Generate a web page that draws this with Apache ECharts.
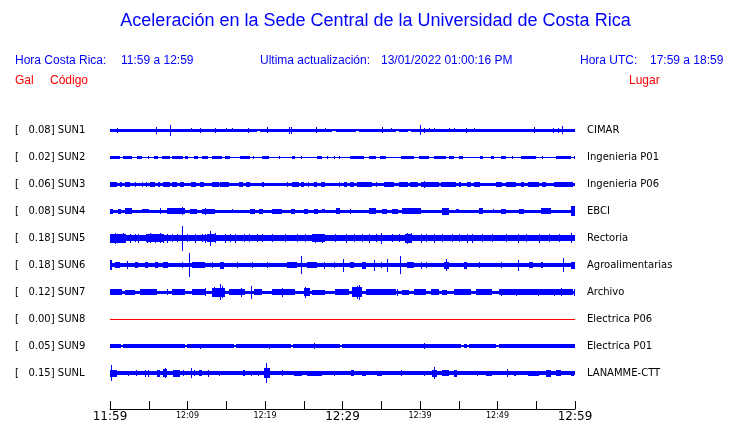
<!DOCTYPE html>
<html><head><meta charset="utf-8">
<script src="https://cdn.jsdelivr.net/npm/echarts@6/dist/echarts.min.js"></script>
<style>html,body{margin:0;padding:0;background:#fff}#c{width:740px;height:423px}</style>
</head><body><div id="c"></div>
<script>
// ---- data ----
const titleText = 'Aceleración en la Sede Central de la Universidad de Costa Rica';
const localRange = '11:59 a 12:59';
const utcRange = '17:59 a 18:59';
const lastUpdate = '13/01/2022 01:00:16 PM';
const stations = ['SUN1','SUN2','SUN3','SUN4','SUN5','SUN6','SUN7','SUN8','SUN9','SUNL'];
const gal = [0.08,0.02,0.06,0.08,0.18,0.18,0.12,0.00,0.05,0.15];
const places = ['CIMAR','Ingenieria P01','Ingenieria P06','EBCI','Rectoria','Agroalimentarias','Archivo','Electrica P06','Electrica P01','LANAMME-CTT'];
const timeLabels = ['11:59','12:04','12:09','12:14','12:19','12:24','12:29','12:34','12:39','12:44','12:49','12:54','12:59'];
// minutes after 11:59 ; [start, end, half amplitude]
const sun1Base = [[0,19.0,1.5],[19.0,19.4,1.0],[19.4,28.7,1.5],[28.7,29.1,1.0],[29.1,31.7,1.5],[31.7,32.1,1.0],[32.1,36.9,1.5],[36.9,37.3,1.0],[37.3,38.4,1.5],[38.4,38.8,1.0],[38.8,60,1.5]];
const sun1Events = [[0.95,0.95,2.5],[5.95,5.95,3.5],[7.76,7.76,5.5],[10.4,10.4,2.2],[11.55,11.55,2.5],[13.6,13.6,2.5],[15.0,15.0,2],[15.7,15.7,2],[17.8,17.8,2.5],[20.2,20.2,3],[23.06,23.06,3.5],[23.3,23.3,3.5],[26.6,26.6,3],[27.8,27.8,2.2],[35.1,35.1,3],[36.3,36.3,2.2],[40.0,40.0,5],[40.5,40.5,2.5],[41.2,41.2,2.2],[41.8,41.8,2.2],[43.75,43.75,2.2],[44.4,44.4,2.2],[45.9,45.9,2.5],[47.0,47.0,2],[54.65,54.65,3],[57.1,57.1,2.5],[57.75,57.75,2.5],[58.3,58.3,4]];
const sun2Base = [[0,60,0.5]];
const sun2Events = [[0,1.3,1.5],[1.7,2.8,1.5],[3.45,4.1,1.5],[4.96,4.96,1.5],[5.7,6.25,1.5],[6.77,7.76,1.5],[7.97,9.48,1.5],[9.7,10.1,1.5],[10.8,11.4,1.5],[11.85,12.7,1.5],[13.1,14.4,1.5],[14.9,15.5,1.5],[16.8,18.1,1.5],[18.5,18.5,1.5],[19.6,20.5,1.5],[21.8,21.8,1.5],[23.5,23.9,1.5],[24.6,24.8,1.5],[26.7,27.4,1.5],[28.0,28.0,1.5],[28.9,28.9,1.5],[29.5,29.5,1.5],[31.0,32.8,1.5],[33.4,34.3,1.5],[34.9,35.6,1.5],[37.5,39.2,1.5],[39.9,41.2,1.5],[41.8,43.3,1.5],[43.75,44.4,1.5],[45.0,45.5,1.5],[47.8,48.1,1.5],[49.1,49.6,1.5],[50.4,51.1,1.5],[51.9,51.9,1.5],[53.0,55.0,1.5],[55.8,55.8,1.5],[57.5,59.5,1.5],[59.9,59.9,1.5]];
const sun3Base = [[0,60,1.5]];
const sun3Events = [[0,0.86,2.5],[1.3,1.5,2.5],[1.9,2.6,2.5],[3.2,3.2,2.5],[4.1,4.1,2.5],[4.7,4.7,2.5],[5.2,5.8,2.5],[6.25,6.5,2.5],[6.9,7.8,2.5],[8.0,8.6,2.5],[9.05,9.5,2.5],[10.5,11.1,2.5],[11.6,12.1,2.5],[13.1,14.0,2.5],[14.2,15.3,2.5],[16.6,17.2,2.5],[17.5,18.1,2.5],[19.6,19.9,2.5],[22.8,22.8,2.5],[23.5,24.35,2.5],[24.6,25.0,2.5],[25.6,25.6,2.5],[26.3,26.7,2.5],[27.2,27.8,2.5],[29.5,29.5,2.5],[30.2,30.6,2.5],[31.0,31.5,2.5],[31.9,33.8,2.5],[34.3,34.3,2.5],[35.3,36.6,2.5],[37.3,38.4,2.5],[38.7,39.7,2.5],[40.1,42.5,2.5],[40.5,40.5,3.5],[42.7,44.6,2.5],[45.0,45.3,2.5],[46.1,46.6,2.5],[47.0,47.8,2.5],[49.8,50.6,2.5],[51.1,52.4,2.5],[53.0,53.4,2.5],[53.9,55.4,2.5],[55.8,56.25,2.5],[57.3,59.7,2.5]];
const sun4Base = [[0,60,1.5]];
const sun4Events = [[0,0.43,2.5],[1.08,1.4,2.5],[1.9,2.8,3],[4.1,5.0,2.3],[6.5,6.5,3],[7.3,9.7,3],[9.3,9.3,4],[10.3,11.2,2.5],[11.85,13.6,2.5],[12.3,12.3,3.5],[15.7,15.7,2.3],[18.1,18.75,2.5],[19.2,19.8,2.5],[20.9,22.2,2.5],[23.3,23.9,2.5],[25.0,25.6,2.5],[26.3,26.9,2.5],[27.4,27.8,2.3],[29.1,29.7,3],[31.0,31.0,2.5],[33.4,34.3,3],[35.1,35.8,2.5],[36.4,37.1,2.5],[37.7,40.1,3],[42.9,43.75,3.5],[44.6,45.0,2.3],[47.6,48.1,3],[49.4,49.6,2.3],[50.4,51.1,2.5],[52.8,53.4,2.5],[55.6,56.9,3],[59.5,60,5]];
const sun5Base = [[0,60,3.4]];
const sun5Events = [[0,2,4.5],[4.7,7,4.2],[12.5,13.6,4],[26.1,27.8,4],[38.1,38.9,4.5],[0.22,0.22,4.5],[0.65,0.65,5.5],[1.29,1.29,4],[1.72,1.72,5],[2.59,2.59,4.5],[3.23,3.23,4],[3.66,3.66,4.5],[4.74,4.74,4.5],[5.17,5.17,5],[5.82,5.82,4.5],[6.47,6.47,5],[6.9,6.9,4.5],[7.33,7.33,4.5],[7.97,7.97,4],[8.62,8.62,4],[9.27,9.27,12.5],[9.91,9.91,4],[10.99,10.99,4.5],[11.85,11.85,4],[12.28,12.28,4.5],[12.93,12.93,7.5],[13.58,13.58,5],[14.87,14.87,4.5],[15.52,15.52,4],[16.16,16.16,4.5],[17.24,17.24,4],[17.89,17.89,4],[18.97,18.97,4],[19.61,19.61,4],[20.9,20.9,4],[22.63,22.63,4],[24.14,24.14,4],[25.22,25.22,4],[26.51,26.51,4.5],[27.37,27.37,4.5],[29.09,29.09,4],[30.39,30.39,4.5],[31.47,31.47,4],[32.54,32.54,4],[33.41,33.41,4.5],[34.27,34.27,4],[34.91,34.91,5.5],[36.42,36.42,4],[37.28,37.28,4],[38.36,38.36,5.5],[38.79,38.79,5],[40.09,40.09,4.5],[40.73,40.73,4],[41.81,41.81,4.5],[42.89,42.89,4],[44.18,44.18,4],[45.04,45.04,4],[46.12,46.12,4.5],[46.77,46.77,4.5],[48.06,48.06,4],[49.35,49.35,4],[51.08,51.08,4],[52.59,52.59,4.5],[53.66,53.66,4],[55.39,55.39,4.5],[56.68,56.68,4],[57.97,57.97,4],[59.48,59.48,5]];
const sun6Base = [[0,60,1.8]];
const sun6Events = [[0,0.22,5],[0.65,1.29,3],[2.16,2.16,4.3],[3.23,3.66,3],[4.53,4.96,3],[5.82,6.25,3],[6.9,7.54,3],[9.27,9.27,3],[10.13,10.13,11.7],[10.56,12.28,3],[13.15,13.15,3],[14.22,14.66,3.5],[16.38,16.38,3],[18.32,18.32,3],[20.26,20.26,3],[22.84,24.14,3],[24.66,24.66,9],[25.43,26.72,3],[27.59,27.59,3.5],[28.88,28.88,3],[30.04,30.04,6.5],[31.03,31.47,3],[32.54,32.97,3.5],[34.05,34.05,5.5],[34.91,34.91,3],[35.69,35.69,6.5],[37.41,37.41,9],[38.36,39.22,3],[40.09,40.09,3.5],[40.73,40.73,3],[43.1,43.75,3.5],[43.4,43.4,6],[45.69,46.12,3.5],[47.63,47.63,3],[50.43,50.43,3],[52.59,52.59,5.5],[54.09,54.53,3],[55.6,55.82,3],[58.49,58.49,7],[59.48,60,3.5]];
const sun7Base = [[0,60,1.5]];
const sun7Events = [[0,1.51,3],[1.94,3.23,2.5],[3.88,6.03,2.7],[7.33,7.33,3],[7.97,9.7,3],[10.56,12.28,3],[12.28,12.28,4],[13.15,14.87,4.5],[13.36,13.36,5],[14.14,14.14,8],[14.44,14.44,6],[15.3,17.46,3.3],[16.94,16.94,4.5],[18.15,18.15,6.5],[18.53,19.61,3],[20.9,23.92,3.2],[22.2,22.2,4.5],[25.0,25.86,3.8],[25.22,25.22,5.5],[26.08,27.8,2.5],[29.09,30.82,3],[31.25,32.54,5],[31.9,31.9,6.5],[32.11,32.11,7.5],[32.97,36.85,2.8],[37.07,37.07,3.5],[37.72,38.58,2.5],[39.22,40.73,3],[41.38,42.46,3],[42.89,43.53,2.5],[44.4,46.55,2.8],[47.2,49.35,2.8],[50.2,59.7,2.8],[50.43,50.43,3.5],[52.37,52.37,3.5],[53.23,53.23,3.3],[55.17,55.17,3.5],[57.33,57.33,3.5],[58.19,58.19,3.8],[59.91,59.91,3.5]];
const sun8Base = [[0,60,0.5]];
const sun8Events = [];
const sun9Base = [[0,1.42,1.6],[1.42,1.72,0.6],[1.72,9.7,1.6],[9.7,9.9,0.6],[9.9,15.95,1.6],[15.95,16.4,0.6],[16.4,23.3,1.6],[23.3,23.6,0.6],[23.6,29.7,1.6],[29.7,29.96,0.6],[29.96,45.26,1.6],[45.26,45.7,0.6],[45.7,46.1,1.6],[46.1,46.3,0.6],[46.3,49.8,1.6],[49.8,50.2,0.6],[50.2,60,1.6]];
const sun9Events = [[11.55,11.55,2.5],[16.29,16.29,2.2],[20.47,20.47,2.5],[26.29,26.29,3],[40.52,40.52,3],[50.13,50.13,2.2]];
const sunlBase = [[0,60,1.8]];
const sunlEvents = [[0.13,0.13,8],[0,0.86,3.5],[2.37,2.37,2.5],[3.36,3.36,3],[4.53,4.53,3.5],[4.87,4.87,3.5],[6.03,6.47,3.5],[6.9,7.33,4],[7.11,7.11,4.7],[8.19,9.05,3.5],[9.48,9.48,3],[10.43,10.43,5.3],[10.78,10.78,3],[11.42,11.85,3],[12.63,12.63,3.5],[14.01,14.01,2.5],[17.11,17.46,3],[18.19,18.19,2.5],[19.09,19.09,2.5],[19.83,20.69,5],[20.17,20.17,10.3],[22.2,22.2,3],[23.71,24.78,2.5],[25.43,27.37,2.5],[28.88,28.88,2.5],[31.16,31.47,3],[32.54,32.97,2.5],[34.48,35.13,2.5],[37.5,37.5,3],[40.52,40.52,2.5],[41.6,42.24,3.5],[41.81,41.81,5.8],[42.89,43.75,3],[44.4,44.83,3.5],[47.41,47.41,2.5],[48.49,49.35,2.5],[51.21,51.21,4],[52.16,52.37,2.5],[53.88,55.39,2.5],[56.25,56.9,3.5],[57.54,58.19,3],[59.48,59.91,2.5]];

// ---- build ----
const traceBases = [sun1Base,sun2Base,sun3Base,sun4Base,sun5Base,sun6Base,sun7Base,sun8Base,sun9Base,sunlBase];
const traceEvents = [sun1Events,sun2Events,sun3Events,sun4Events,sun5Events,sun6Events,sun7Events,sun8Events,sun9Events,sunlEvents];
const traceColors = ['#0000ff','#0000ff','#0000ff','#0000ff','#0000ff','#0000ff','#0000ff','#ff0000','#0000ff','#0000ff'];
const SPACING = 27;
const segs = [];
for (let i = 0; i < stations.length; i++) {
  traceBases[i].concat(traceEvents[i]).forEach(s => segs.push([s[0], i * SPACING, s[1], s[2], i]));
}
const BLUE = '#0000ff', RED = '#ff0000';
const chart = echarts.init(document.getElementById('c'), null, {renderer: 'canvas'});
function yLabel(v, fn) {
  const i = Math.round(v / SPACING);
  if (Math.abs(v - i * SPACING) > 1e-6 || i < 0 || i >= stations.length) return '';
  return fn(i);
}
const txt = (x, y, text, color, font, align) => ({type: 'text', x, y, silent: true,
  style: {text, fill: color, font, align: align || 'left', verticalAlign: 'middle'}});
const hFont = '12px "Liberation Sans", Arial, sans-serif';
chart.setOption({
  animation: false,
  backgroundColor: '#fff',
  graphic: [
    txt(375.5, 21, titleText, BLUE, '18px "Liberation Sans", Arial, sans-serif', 'center'),
    txt(15, 61, 'Hora Costa Rica:', BLUE, hFont),
    txt(121, 61, localRange, BLUE, hFont),
    txt(260, 61, 'Ultima actualización:', BLUE, hFont),
    txt(381, 61, lastUpdate, BLUE, hFont),
    txt(580, 61, 'Hora UTC:', BLUE, hFont),
    txt(650, 61, utcRange, BLUE, hFont),
    txt(15, 81, 'Gal', RED, hFont),
    txt(50, 81, 'Código', RED, hFont),
    txt(629, 81, 'Lugar', RED, hFont)
  ],
  grid: {left: 110, right: 165, top: 103, bottom: 14, containLabel: false},
  xAxis: {
    type: 'value', min: 0, max: 60, interval: 5,
    axisLine: {show: true, onZero: false, lineStyle: {color: '#000', width: 1}},
    axisTick: {show: true, inside: true, length: 8, lineStyle: {color: '#000'}},
    splitLine: {show: false},
    axisLabel: {
      margin: 2, color: '#000', fontFamily: 'DejaVu Sans',
      formatter: v => {
        const k = Math.round(v / 5);
        if (k % 2) return '';
        return (k % 6 === 0 ? '{big|' : '{small|') + timeLabels[k] + '}';
      },
      rich: {
        big: {fontSize: 12, fontFamily: 'DejaVu Sans', color: '#000'},
        small: {fontSize: 8, fontFamily: 'DejaVu Sans', color: '#000', padding: [1, 0, 0, 0]}
      }
    }
  },
  yAxis: [
    {type: 'value', min: -27, max: 279, interval: 27, inverse: true, position: 'left',
     axisLine: {show: false}, axisTick: {show: false}, splitLine: {show: false},
     axisLabel: {margin: 95, align: 'left', color: '#000', fontSize: 10, fontFamily: 'DejaVu Sans',
       formatter: v => yLabel(v, i => '[   ' + gal[i].toFixed(2) + '] ' + stations[i])}},
    {type: 'value', min: -27, max: 279, interval: 27, inverse: true, position: 'right',
     axisLine: {show: false}, axisTick: {show: false}, splitLine: {show: false},
     axisLabel: {margin: 12, align: 'left', color: '#000', fontSize: 10, fontFamily: 'DejaVu Sans',
       formatter: v => yLabel(v, i => places[i])}}
  ],
  series: [{
    type: 'custom', xAxisIndex: 0, yAxisIndex: 0, silent: true,
    data: segs,
    encode: {x: [0, 2], y: 1},
    renderItem: (params, api) => {
      const t0 = api.value(0), c = api.value(1), t1 = api.value(2), a = api.value(3), tr = api.value(4);
      const p0 = api.coord([t0, c - a]);
      const p1 = api.coord([t1, c + a]);
      const x0 = Math.round(Math.min(p0[0], p1[0]));
      const x1 = Math.max(x0 + 1, Math.round(Math.max(p0[0], p1[0])));
      const y0 = Math.round(Math.min(p0[1], p1[1]));
      const y1 = Math.max(y0 + 1, Math.round(Math.max(p0[1], p1[1])));
      return {type: 'rect', shape: {x: x0, y: y0, width: x1 - x0, height: y1 - y0},
              style: {fill: traceColors[tr]}};
    }
  }]
});
</script></body></html>
